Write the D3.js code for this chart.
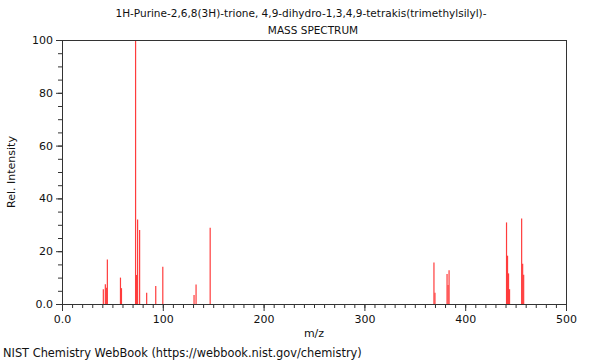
<!DOCTYPE html>
<html>
<head>
<meta charset="utf-8">
<script src="https://cdn.jsdelivr.net/npm/d3@7"></script>
<style>
  body { margin: 0; background: #fff; }
  text { font-family: "DejaVu Sans", sans-serif; fill: #111; }
</style>
</head>
<body>
<div id="chart"></div>
<script>
// Peak list
var mzValues = [41, 43, 44, 45, 58, 59, 73, 74, 75, 77, 84, 93, 100, 131, 133, 147,
  369, 370, 382, 383, 384, 441, 442, 443, 444, 456, 457, 458];
var intensities = [5.6, 7.5, 6.2, 16.9, 10.0, 6.0, 100, 11.0, 32.0, 28.0, 4.3, 6.8, 14.1, 3.4, 7.4, 28.9,
  15.7, 4.3, 11.4, 7.2, 12.8, 30.9, 18.3, 11.6, 5.6, 32.4, 15.2, 11.1];

var xTicks = [0, 100, 200, 300, 400, 500];
var xTickLabels = ["0.0", "100", "200", "300", "400", "500"];
var yTicks = [0, 20, 40, 60, 80, 100];
var yTickLabels = ["0.0", "20", "40", "60", "80", "100"];

var svgWidth = 600;
var svgHeight = 360;

var margin = { top: 40, right: 34, bottom: 56, left: 62 };
var width = svgWidth - margin.left - margin.right;
var height = svgHeight - margin.top - margin.bottom;

var svg = d3.select("#chart")
  .append("svg")
  .attr("width", svgWidth)
  .attr("height", svgHeight);

var chartGroup = svg.append("g")
  .attr("transform", `translate(${margin.left}, ${margin.top})`);

var x = d3.scaleLinear().domain([0, 500]).range([0, width]);
var y = d3.scaleLinear().domain([0, 100]).range([height, 0]);

var peaks = mzValues.map(function(m, i) { return { mz: m, val: intensities[i] }; });

// peaks
chartGroup.selectAll("line.peak")
  .data(peaks)
  .enter()
  .append("line")
  .attr("class", "peak")
  .attr("x1", d => x(d.mz))
  .attr("x2", d => x(d.mz))
  .attr("y1", y(0))
  .attr("y2", d => y(d.val))
  .attr("stroke", "#ff3c3c")
  .attr("stroke-width", 1.2);

// frame top and right
chartGroup.append("line")
  .attr("x1", 0).attr("x2", width).attr("y1", 0.5).attr("y2", 0.5)
  .attr("stroke", "#333");
chartGroup.append("line")
  .attr("x1", width + 0.5).attr("x2", width + 0.5).attr("y1", 0).attr("y2", height)
  .attr("stroke", "#333");

// x axis minor ticks
var xAxisMinor = d3.axisBottom(x)
  .tickValues(d3.range(0, 501, 10))
  .tickSize(4)
  .tickFormat("");
chartGroup.append("g")
  .attr("transform", `translate(0, ${height})`)
  .call(xAxisMinor)
  .call(g => g.select(".domain").remove())
  .selectAll("line").attr("stroke", "#333");

// x axis major
var xAxis = d3.axisBottom(x)
  .tickValues(xTicks)
  .tickSize(7)
  .tickSizeOuter(0)
  .tickPadding(4)
  .tickFormat((d, i) => xTickLabels[i]);
var xg = chartGroup.append("g")
  .attr("transform", `translate(0, ${height})`)
  .call(xAxis);
xg.selectAll("text").style("font-size", "11px");
xg.selectAll("line, path").attr("stroke", "#333");

// y axis minor ticks
var yAxisMinor = d3.axisLeft(y)
  .tickValues(d3.range(0, 101, 5))
  .tickSize(4)
  .tickFormat("");
chartGroup.append("g")
  .call(yAxisMinor)
  .call(g => g.select(".domain").remove())
  .selectAll("line").attr("stroke", "#333");

// y axis major
var yAxis = d3.axisLeft(y)
  .tickValues(yTicks)
  .tickSize(6)
  .tickSizeOuter(0)
  .tickPadding(3)
  .tickFormat((d, i) => yTickLabels[i]);
var yg = chartGroup.append("g").call(yAxis);
yg.selectAll("text").style("font-size", "11px");
yg.selectAll("line, path").attr("stroke", "#333");

// titles
svg.append("text")
  .attr("x", 301)
  .attr("y", 17)
  .attr("text-anchor", "middle")
  .style("font-size", "10.5px")
  .text("1H-Purine-2,6,8(3H)-trione, 4,9-dihydro-1,3,4,9-tetrakis(trimethylsilyl)-");

svg.append("text")
  .attr("x", 313)
  .attr("y", 34)
  .attr("text-anchor", "middle")
  .style("font-size", "10.5px")
  .text("MASS SPECTRUM");

// axis labels
svg.append("text")
  .attr("x", margin.left + width / 2)
  .attr("y", 337)
  .attr("text-anchor", "middle")
  .style("font-size", "11px")
  .text("m/z");

svg.append("text")
  .attr("transform", `translate(15, ${margin.top + height / 2}) rotate(-90)`)
  .attr("text-anchor", "middle")
  .style("font-size", "11px")
  .text("Rel. Intensity");

// footer
svg.append("text")
  .attr("x", 3)
  .attr("y", 357)
  .style("font-size", "11.4px")
  .text("NIST Chemistry WebBook (https://webbook.nist.gov/chemistry)");
</script>
</body>
</html>
